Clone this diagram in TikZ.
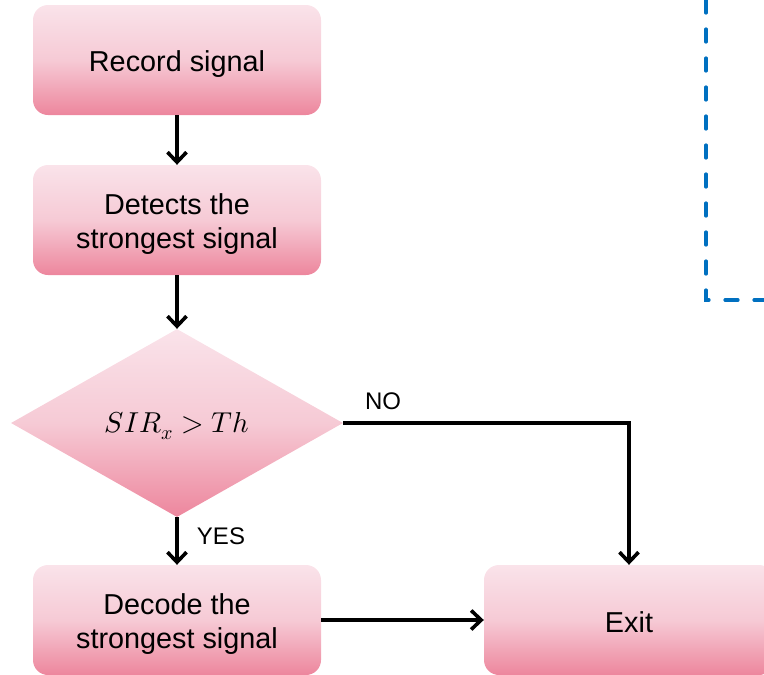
\documentclass[tikz,border=0pt]{standalone}
\usepackage{unicode-math}
\setmainfont{Liberation Sans}
\setmathfont{Latin Modern Math}
\usetikzlibrary{shapes.geometric,arrows.meta}
\definecolor{pinktop}{RGB}{250,227,234}
\definecolor{pinkmid}{RGB}{246,202,213}
\definecolor{pinkbot}{RGB}{237,134,157}
\definecolor{dashblue}{RGB}{0,112,192}
\begin{document}
\begin{tikzpicture}[x=1pt,y=-1pt,
  pinkfill/.style={top color=pinktop,bottom color=pinkbot,middle color=pinkmid,draw=none},
  procbox/.style={pinkfill,rectangle,rounded corners=15pt,minimum width=288pt,minimum height=110pt,inner sep=0pt},
  decbox/.style={pinkfill,diamond,aspect=1.766,minimum width=332pt,minimum height=188pt,inner sep=0pt},
  txt/.style={align=center,inner sep=0pt,font=\fontsize{28.8}{34}\selectfont},
  conn/.style={line width=3.6pt,-{Straight Barb[length=10pt,width=19pt,line width=3.6pt]}},
  lbl/.style={font=\fontsize{24}{28}\selectfont,inner sep=0pt}]
\useasboundingbox (0,0) rectangle (764,675);
\clip (0,0) rectangle (764,675);
\node[procbox] (rec) at (177,60) {};
\node[procbox] (det) at (177,220) {};
\node[decbox] (dec) at (177,423) {};
\node[procbox] (dcd) at (177,620) {};
\node[procbox,minimum width=290pt] (ext) at (629,620) {};
\node[txt] (rect) at ([yshift=-4pt]rec.center) {Record signal};
\node[txt] (dett) at ([yshift=-4pt]det.center) {Detects the\\strongest signal};
\node[txt] (dect) at ([yshift=-3pt]dec.center) {$SIR_x > Th$};
\node[txt] (dcdt) at ([yshift=-4pt]dcd.center) {Decode the\\strongest signal};
\node[txt] (extt) at ([yshift=-2pt]ext.center) {Exit};
\draw[conn] (rec.south) -- (det.north);
\draw[conn] (det.south) -- (dec.north);
\draw[conn] (dec.south) -- (dcd.north);
\draw[conn] (dec.east) -| (ext.north);
\draw[conn] (dcd.east) -- (ext.west);
\node[lbl] (no) at (383,401) {NO};
\node[lbl] (yes) at (221,536) {YES};
\coordinate (d1) at (706,0);
\coordinate (d2) at (706,300);
\coordinate (d3) at (770,300);
\draw[dashblue,line width=3.2pt,dash pattern=on 13pt off 16pt,line cap=round] (d1) -- (d2) -- (d3);
\end{tikzpicture}
\end{document}
